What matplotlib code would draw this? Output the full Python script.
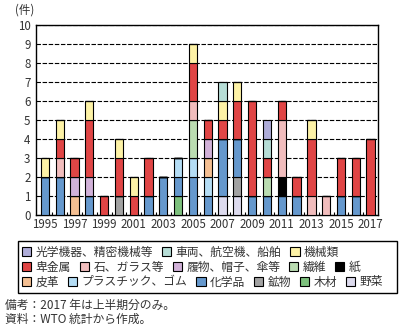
import matplotlib
matplotlib.use("Agg")
import matplotlib.pyplot as plt
from matplotlib.patches import Rectangle
import numpy as np

plt.rcParams['font.family'] = ['Noto Sans CJK JP', 'DejaVu Sans']

years = list(range(1995, 2018))
tick_years = [str(y) for y in range(1995, 2018, 2)]

# legend order
categories = ["光学機器、精密機械等", "車両、航空機、船舶", "機械類",
              "卑金属", "石、ガラス等", "履物、帽子、傘等", "繊維", "紙",
              "皮革", "プラスチック、ゴム", "化学品", "鉱物", "木材", "野菜"]
colors = ["#aeacd8", "#b6ddd6", "#fdf2a6",
          "#e04545", "#f1bdbd", "#d1b1d8", "#badcb1", "#000000",
          "#f4bf92", "#b4ddf5", "#6598cd", "#a2a2a2", "#7dc17d", "#dddbee"]

#                 1995 ........................................................ 2017
optical   = [0,0,0,0,0, 0,0,0,0,0, 0,0,0,0,0, 1,0,0,0,0, 0,0,0]
vehicles  = [0,0,0,0,0, 0,0,0,0,0, 0,0,1,0,0, 1,0,0,0,0, 0,0,0]
machinery = [1,1,0,1,0, 1,1,0,0,0, 1,0,1,1,0, 0,0,0,1,0, 0,0,0]
basemetal = [0,1,1,3,1, 2,1,2,0,0, 2,1,1,2,5, 1,1,1,3,0, 2,2,4]
stone     = [0,1,0,0,0, 0,0,0,0,0, 1,0,0,0,0, 0,3,0,1,1, 0,0,0]
footwear  = [0,0,1,1,0, 0,0,0,0,0, 0,1,0,0,0, 0,0,0,0,0, 0,0,0]
textiles  = [0,0,0,0,0, 0,0,0,0,0, 2,0,0,0,0, 1,0,0,0,0, 0,0,0]
paper     = [0,0,0,0,0, 0,0,0,0,0, 0,0,0,0,0, 0,1,0,0,0, 0,0,0]
leather   = [0,0,1,0,0, 0,0,0,0,0, 0,1,0,0,0, 0,0,0,0,0, 0,0,0]
plastic   = [0,0,0,0,0, 0,0,0,0,1, 1,1,0,0,0, 0,0,0,0,0, 0,0,0]
chemical  = [2,2,0,1,0, 0,0,1,2,1, 2,1,3,2,1, 1,1,1,0,0, 1,1,0]
mineral   = [0,0,0,0,0, 1,0,0,0,0, 0,0,0,1,0, 0,0,0,0,0, 0,0,0]
wood      = [0,0,0,0,0, 0,0,0,0,1, 0,0,0,0,0, 0,0,0,0,0, 0,0,0]
vegetable = [0,0,0,0,0, 0,0,0,0,0, 0,0,1,1,0, 0,0,0,0,0, 0,0,0]

series = [optical, vehicles, machinery, basemetal, stone, footwear, textiles,
          paper, leather, plastic, chemical, mineral, wood, vegetable]

fig = plt.figure(figsize=(4.03, 3.30), dpi=100)
ax = fig.add_axes([36/403, 1-215/330, (378-36)/403, 190/330])

x = np.arange(len(years))
bottom = np.zeros(len(years))
handles = {}
for name, col, vals in reversed(list(zip(categories, colors, series))):
    v = np.array(vals, dtype=float)
    bc = ax.bar(x, v, 0.56, bottom=bottom, color=col, edgecolor='black',
                linewidth=0.8, label=name, zorder=3)
    handles[name] = bc
    bottom += v

ax.set_xlim(-0.6, 22.5)
ax.set_ylim(0, 10)
ax.set_yticks(range(0, 11))
ax.tick_params(axis='y', length=0, pad=4, labelsize=8.3, labelcolor='#333333')
ax.set_xticks(x[::2])
ax.set_xticklabels(tick_years)
ax.set_xticks(x[:-1] + 0.5, minor=True)
ax.tick_params(axis='x', which='major', length=0, pad=2.5, labelsize=8.3,
               labelcolor='#333333')
ax.tick_params(axis='x', which='minor', direction='in', length=2.5, width=0.8)
ax.yaxis.grid(True, color='black', linestyle=(0, (4, 1.5)), linewidth=0.8)
ax.set_axisbelow(True)
for s in ax.spines.values():
    s.set_linewidth(1.0)
    s.set_color('black')

fig.text(15/403, 1-10/330, "(件)", fontsize=8.3, color='#333333',
         va='center', ha='left')

# legend: three rows, flowing layout
rows = [categories[0:3], categories[3:8], categories[8:14]]
row_y = [252, 267, 282]
for names, yy in zip(rows, row_y):
    leg = fig.legend([handles[n] for n in names], names, ncol=len(names),
                     loc='center left', bbox_to_anchor=(22/403, 1-yy/330),
                     frameon=False, fontsize=8.5, handlelength=0.8,
                     handleheight=0.8, handletextpad=0.35, columnspacing=0.75,
                     borderpad=0, borderaxespad=0)
    for t in leg.get_texts():
        t.set_color('#333333')
fig.patches.append(Rectangle((18/403, 1-293/330), (397-18)/403, 52/330,
                             transform=fig.transFigure, fill=False,
                             edgecolor='black', linewidth=1.0))

fig.text(5/403, 1-305/330, "備考：2017 年は上半期分のみ。", fontsize=8.5,
         color='#333333', va='center', ha='left')
fig.text(5/403, 1-319/330, "資料：WTO 統計から作成。", fontsize=8.5,
         color='#333333', va='center', ha='left')

fig.savefig("out.png", dpi=100)
